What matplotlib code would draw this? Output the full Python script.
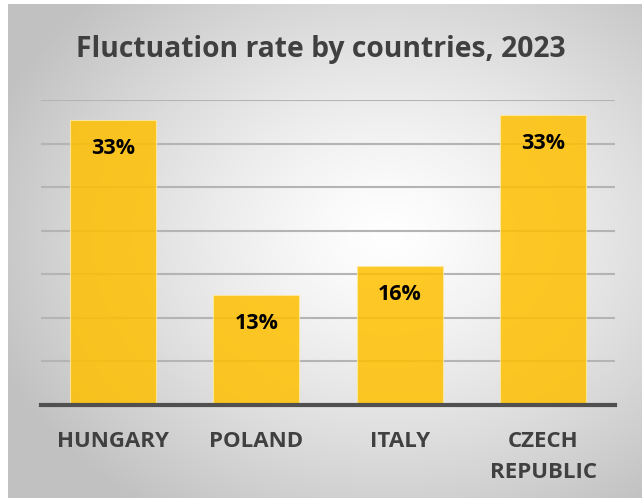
import numpy as np
import matplotlib
matplotlib.use("Agg")
import matplotlib.pyplot as plt

categories = ["HUNGARY", "POLAND", "ITALY", "CZECH\nREPUBLIC"]
values = [32.7, 12.6, 16.0, 33.3]
title = "Fluctuation rate by countries, 2023"

W, H = 642, 500
fig = plt.figure(figsize=(W / 100, H / 100), dpi=100)
fig.patch.set_facecolor("white")

# background radial gradient panel
bg = fig.add_axes([8 / W, 2 / H, (W - 8) / W, (H - 6) / H])
bg.set_axis_off()
yy, xx = np.mgrid[0:H - 6, 0:W - 8]
cx, cy = 380, 230
r = np.sqrt(((xx - cx) / 420.0) ** 2 + ((yy - cy) / 330.0) ** 2)
r = np.clip(r, 0, 1)
shade = 1.0 - 0.24 * r ** 1.3
img = np.dstack([shade, shade, shade])
bg.imshow(img, aspect="auto", interpolation="bilinear")

ax = fig.add_axes([41 / W, 95 / H, 574 / W, 305 / H])
ax.patch.set_alpha(0)
x = np.arange(len(categories))
ax.set_xlim(-0.5, len(categories) - 0.5)
ax.set_ylim(0, 35)
ax.set_yticks(np.arange(5, 36, 5))
ax.yaxis.grid(True, color="#b4b4b4", linewidth=1.5, zorder=1)
ax.set_axisbelow(True)
ax.tick_params(axis="y", left=False, labelleft=False)
ax.tick_params(axis="x", bottom=False, pad=15.5)
for s in ["top", "right", "left"]:
    ax.spines[s].set_visible(False)
ax.spines["bottom"].set_color("#505050")
ax.spines["bottom"].set_linewidth(3)
ax.spines["bottom"].set_zorder(5)

bars = ax.bar(x, values, width=0.6, color="#FFC000", alpha=0.85,
              edgecolor="#FFE9A0", linewidth=0.8, zorder=3)
for xi, v in zip(x, values):
    ax.text(xi, v - 3.9, f"{v:.0f}%", ha="center", va="baseline",
            fontsize=15.5, fontweight="bold", color="black",
            family="Open Sans", zorder=6)

ax.set_xticks(x)
ax.set_xticklabels(categories, fontsize=16, fontweight="bold",
                   color="#404040", family="Open Sans", linespacing=1.62,
                   va="top")

fig.text(0.5, 1 - 56.7 / H, title, ha="center", va="baseline",
         fontsize=20.3, fontweight="bold", color="#404040", family="Open Sans")

fig.savefig("out.png", dpi=100)
